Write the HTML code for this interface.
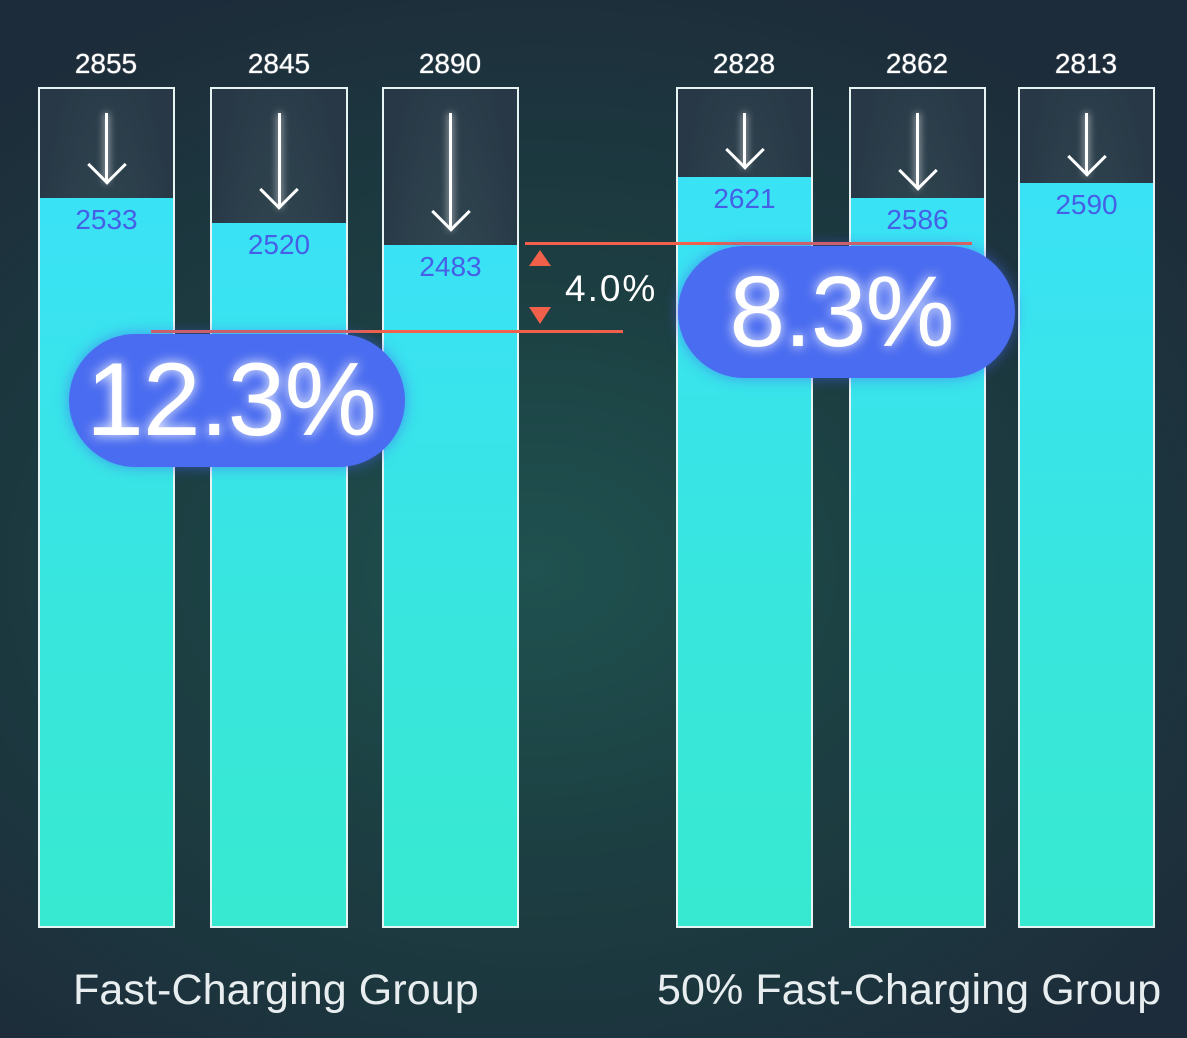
<!DOCTYPE html>
<html><head><meta charset="utf-8"><style>
body{margin:0;width:1187px;height:1038px;overflow:hidden;font-family:"Liberation Sans",sans-serif;
background:radial-gradient(ellipse 70% 60% at 45% 55%,#1f5250 0%,#1c3f42 45%,#1d2c3a 100%),#1d2a38;position:relative}
.bar{position:absolute;top:87px;height:841px;box-sizing:border-box;border:2px solid #e8f4f4;background:radial-gradient(ellipse 70% 80% at 50% 70%,#3b5a60,#283846);}
.fill{position:absolute;left:0;right:0;bottom:0;background:linear-gradient(#3ae2f6,#38e6dc 60%,#37e9d0);}
.fill span{position:absolute;top:6px;left:0;right:0;text-align:center;color:#4560e6;font-size:28px}
.top{position:absolute;top:48px;width:140px;text-align:center;color:#fff;font-size:28px;text-shadow:0 0 1px #fff}
.arr{position:absolute;left:50%;width:3px;margin-left:-1.5px;background:#fff;box-shadow:0 0 8px #fff;top:24px}
.arr:after{content:"";position:absolute;left:50%;bottom:-1px;width:28px;height:28px;border-right:3px solid #fff;border-bottom:3px solid #fff;transform:translate(-50%,0) rotate(45deg);box-sizing:border-box;translate:0 -5px}
.pill{position:absolute;background:#4a6cf0;border-radius:70px;color:#fff;text-align:center;text-shadow:0 0 12px #fff;box-shadow:0 0 14px rgba(70,100,240,.6)}
.red{position:absolute;height:3px;background:#f0604a}
.lab{position:absolute;top:966px;color:#e8eef0;font-size:43px;letter-spacing:0.1px}
</style></head><body>
<div class="top" style="left:36px">2855</div><div class="top" style="left:209px">2845</div><div class="top" style="left:380px">2890</div>
<div class="top" style="left:674px">2828</div><div class="top" style="left:847px">2862</div><div class="top" style="left:1016px">2813</div>

<div class="bar" style="left:38px;width:137px"><div class="arr" style="height:70px"></div><div class="fill" style="top:109px"><span>2533</span></div></div>
<div class="bar" style="left:210px;width:138px"><div class="arr" style="height:95px"></div><div class="fill" style="top:134px"><span>2520</span></div></div>
<div class="bar" style="left:382px;width:137px"><div class="arr" style="height:117px"></div><div class="fill" style="top:156px"><span>2483</span></div></div>
<div class="bar" style="left:676px;width:137px"><div class="arr" style="height:55px"></div><div class="fill" style="top:88px"><span>2621</span></div></div>
<div class="bar" style="left:849px;width:137px"><div class="arr" style="height:76px"></div><div class="fill" style="top:109px"><span>2586</span></div></div>
<div class="bar" style="left:1018px;width:137px"><div class="arr" style="height:62px"></div><div class="fill" style="top:94px"><span>2590</span></div></div>

<div class="red" style="left:525px;width:447px;top:242px"></div>
<div class="red" style="left:151px;width:472px;top:330px"></div>
<div style="position:absolute;left:529px;top:250px;width:0;height:0;border-left:11px solid transparent;border-right:11px solid transparent;border-bottom:16px solid #f0604a"></div>
<div style="position:absolute;left:529px;top:307px;width:0;height:0;border-left:11px solid transparent;border-right:11px solid transparent;border-top:17px solid #f0604a"></div>
<div style="position:absolute;left:565px;top:268px;color:#fff;font-size:37px;letter-spacing:2px">4.0%</div>

<div class="pill" style="left:69px;top:334px;width:336px;height:133px;line-height:133px;font-size:104px;letter-spacing:-1px;text-indent:-12px">12.3%</div>
<div class="pill" style="left:678px;top:246px;width:337px;height:132px;line-height:132px;font-size:100px;letter-spacing:-1px;text-indent:-10px">8.3%</div>

<div class="lab" style="left:73px">Fast-Charging Group</div>
<div class="lab" style="left:657px">50% Fast-Charging Group</div>
</body></html>
